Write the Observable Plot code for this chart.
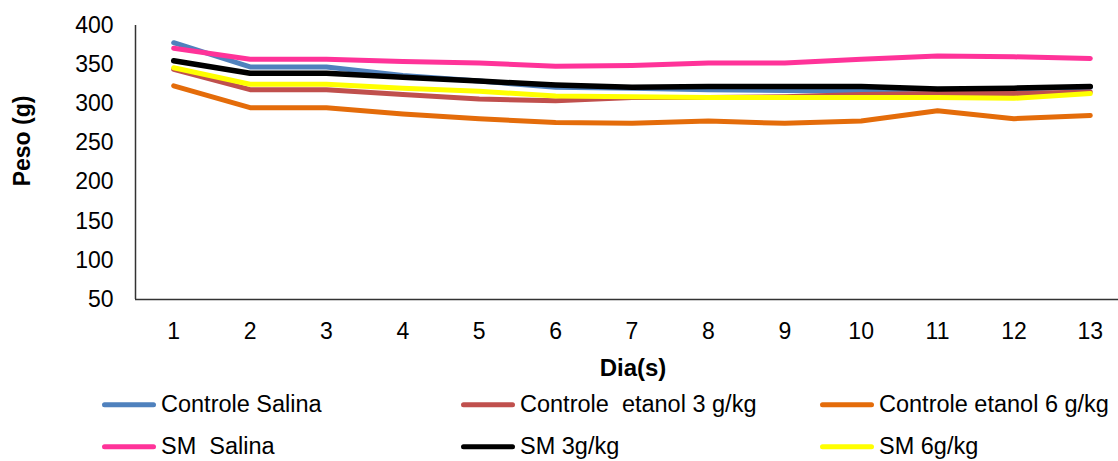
<!DOCTYPE html>
<html>
<head>
<meta charset="utf-8">
<script src="https://cdn.jsdelivr.net/npm/d3@7"></script>
<script src="https://cdn.jsdelivr.net/npm/@observablehq/plot@0.6"></script>
<style>
  html, body { margin: 0; padding: 0; background: #fff; }
  #wrap { position: relative; width: 1118px; height: 461px; overflow: hidden;
          font-family: "Liberation Sans", Arial, sans-serif; color: #000; }
  #chart svg { display: block; }
  .ytitle { position: absolute; left: 22px; top: 141px; font-weight: bold; font-size: 23px;
            transform: translate(-50%, -50%) rotate(-90deg); white-space: pre; }
  .xtitle { position: absolute; left: 633px; top: 368px; font-weight: bold; font-size: 24px;
            transform: translate(-50%, -50%); white-space: pre; }
  .item { position: absolute; display: flex; align-items: center; font-size: 23.5px; line-height: 1;
          white-space: pre; transform: translateY(-50%); }
  .swatch { width: 54px; height: 5px; border-radius: 3px; margin-right: 5px; }
</style>
</head>
<body>
<div id="wrap">
  <div id="chart"></div>
</div>
<script>
// Body weight (g) per day for each group
const days = [1, 2, 3, 4, 5, 6, 7, 8, 9, 10, 11, 12, 13];
const seriesNames = ["Controle Salina", "Controle  etanol 3 g/kg", "Controle etanol 6 g/kg",
                     "SM  Salina", "SM 3g/kg", "SM 6g/kg"];
const seriesColors = ["#4F81BD", "#C0504D", "#E46C0A", "#FF3399", "#000000", "#FFFF00"];
const controleSalina  = [378, 347, 347, 336, 329, 321, 320, 318, 317, 316, 318, 319, 321];
const controleEtanol3 = [344, 318, 318, 312, 306, 304, 308, 308, 309, 312, 313, 313, 315];
const controleEtanol6 = [323, 295, 295, 287, 281, 276, 275, 278, 275, 278, 291, 281, 285];
const smSalina        = [371, 357, 357, 354, 352, 348, 349, 352, 352, 357, 361, 360, 358];
const sm3             = [355, 339, 339, 334, 329, 324, 321, 322, 322, 322, 319, 320, 322];
const sm6             = [346, 325, 325, 320, 316, 310, 309, 308, 308, 308, 308, 307, 313];
const yTicks = [50, 100, 150, 200, 250, 300, 350, 400];

const seriesValues = [controleSalina, controleEtanol3, controleEtanol6, smSalina, sm3, sm6];
const rows = seriesValues.map((vals, i) =>
  days.map((d, j) => ({series: seriesNames[i], day: d, peso: vals[j]})));

const font = `"Liberation Sans", Arial, sans-serif`;

const plot = Plot.plot({
  width: 1118,
  height: 385,
  marginLeft: 135,
  marginTop: 25,
  marginBottom: 86,
  marginRight: 0,
  style: {fontFamily: font, fontSize: "23px", color: "#000", background: "#fff", overflow: "hidden"},
  x: {type: "linear", domain: [0.5, 13.5], range: [135, 1128]},
  y: {domain: [50, 400], range: [299, 25]},
  marks: [
    Plot.axisY(yTicks, {tickSize: 0, tickPadding: 22, label: null, fontSize: 23}),
    Plot.axisX(days, {tickSize: 0, tickPadding: 23, label: null, fontSize: 23, tickFormat: d => String(d)}),
    Plot.ruleX([0.5], {y1: 50, y2: 400, stroke: "#333", strokeWidth: 1.5}),
    Plot.ruleY([50], {x1: 0.5, x2: 13.5, stroke: "#333", strokeWidth: 1.5}),
    ...rows.map((r, i) => Plot.line(r, {
      x: "day", y: "peso",
      stroke: seriesColors[i],
      strokeWidth: i === 4 ? 5.5 : 5,
      strokeLinecap: "round", strokeLinejoin: "round"
    }))
  ]
});
document.getElementById("chart").append(plot);

const wrap = document.getElementById("wrap");
const yt = document.createElement("div");
yt.className = "ytitle"; yt.textContent = "Peso (g)";
wrap.append(yt);
const xt = document.createElement("div");
xt.className = "xtitle"; xt.textContent = "Dia(s)";
wrap.append(xt);

// Legend: two rows, three columns
const colLeft = [102, 461, 820];
const rowTop = [405, 447];
seriesNames.forEach((name, i) => {
  const item = document.createElement("div");
  item.className = "item";
  item.style.left = colLeft[i % 3] + "px";
  item.style.top = rowTop[Math.floor(i / 3)] + "px";
  const sw = document.createElement("div");
  sw.className = "swatch";
  sw.style.background = seriesColors[i];
  const label = document.createElement("span");
  label.textContent = name;
  item.append(sw, label);
  wrap.append(item);
});
</script>
</body>
</html>
